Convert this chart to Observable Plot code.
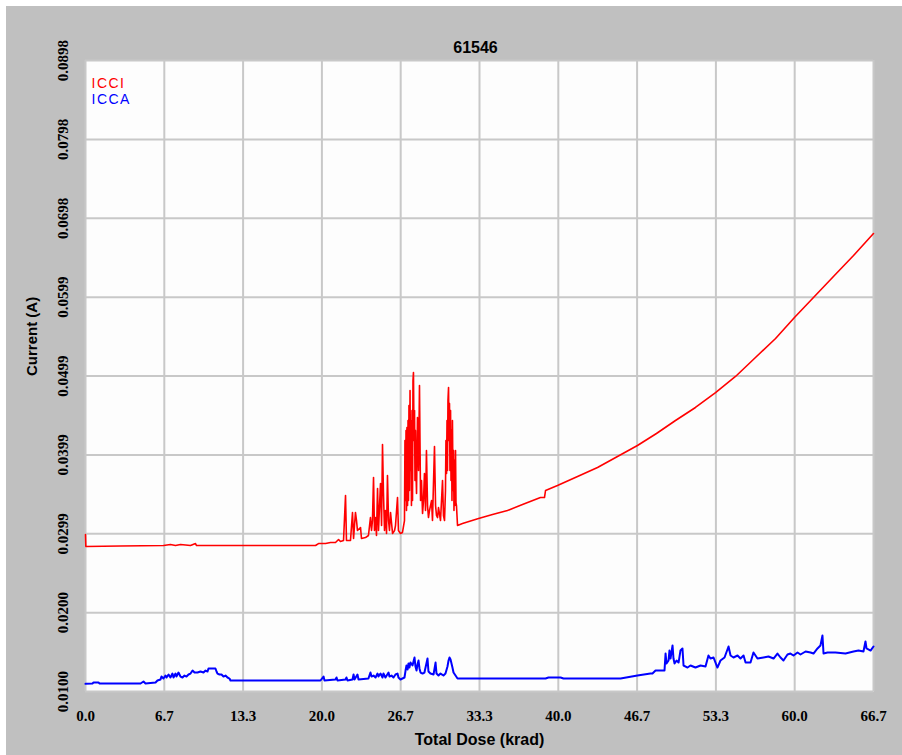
<!DOCTYPE html>
<html><head><meta charset="utf-8">
<script src="https://cdn.jsdelivr.net/npm/d3@7"></script>
<script src="https://cdn.jsdelivr.net/npm/@observablehq/plot@0.6"></script>
<style>
html,body{margin:0;padding:0;background:#fff;}
#chart{position:absolute;left:6px;top:6px;}
</style></head><body><div id="chart"></div>
<script>
const chartTitle = "61546";
const xTitle = "Total Dose (krad)";
const yTitle = "Current (A)";
const seriesNames = ["ICCI", "ICCA"];
const seriesColors = ["#ff0000", "#0000ff"];

const xTicks = [0, 6.67, 13.34, 20.01, 26.68, 33.35, 40.02, 46.69, 53.36, 60.03, 66.7];
const xTickLabels = ["0.0","6.7","13.3","20.0","26.7","33.3","40.0","46.7","53.3","60.0","66.7"];
const yTicks = [0.0100, 0.019975, 0.02995, 0.039925, 0.0499, 0.059875, 0.06985, 0.079825, 0.0898];
const yTickLabels = ["0.0100","0.0200","0.0299","0.0399","0.0499","0.0599","0.0698","0.0798","0.0898"];

const icciDose = [
  0, 0.03, 2.96, 6.60, 7.19, 7.62, 8.04, 8.89, 9.31, 9.40, 13.97, 19.47, 19.72, 20.32, 20.74, 21.16, 21.42, 21.58, 21.84, 22.01, 22.09, 22.43, 22.60, 22.69, 22.85, 22.94, 23.02, 23.28, 23.36, 23.70, 23.95, 24.12, 24.21, 24.29, 24.38, 24.46, 24.55, 24.63, 24.72, 24.80, 24.97, 25.06, 25.14, 25.22, 25.31, 25.39, 25.48, 25.56, 25.65, 25.73, 25.82, 25.99, 26.16, 26.24, 26.41, 26.49, 26.66, 26.83,
  27.00, 27.04, 27.09, 27.13, 27.17, 27.21, 27.26, 27.30, 27.34, 27.38, 27.42, 27.47, 27.51, 27.55, 27.59, 27.64, 27.68, 27.72, 27.76, 27.81, 27.85, 27.89, 27.93, 27.97, 28.02,
  28.10, 28.19, 28.27, 28.36, 28.44, 28.53, 28.61, 28.69, 28.78, 28.86, 28.95, 29.03, 29.12, 29.29, 29.37, 29.54, 29.63, 29.71, 29.80, 29.88, 30.05, 30.22, 30.30, 30.39,
  30.47, 30.51, 30.56, 30.60, 30.64, 30.68, 30.73, 30.77, 30.81, 30.85, 30.90, 30.94, 30.98, 31.02, 31.06, 31.11, 31.15, 31.19, 31.23, 31.27, 31.32, 31.36, 31.40, 31.49,
  31.91, 33.27, 34.45, 35.72, 36.99, 38.51, 38.85, 38.94, 39.95, 41.65, 43.34, 45.03, 46.72, 48.33, 49.94, 51.63, 53.33, 55.02, 56.71, 58.41, 60.01, 61.62, 63.31, 65.01, 66.70];
const icciCurrent = [
  0.02985, 0.02834, 0.02840, 0.02846, 0.02859, 0.02846, 0.02859, 0.02846, 0.02871, 0.02846, 0.02846, 0.02846, 0.02871, 0.02871, 0.02884, 0.02884, 0.02922, 0.02897, 0.02909, 0.03479, 0.02909, 0.02909, 0.03264, 0.02935, 0.03264, 0.03162, 0.03036, 0.03074, 0.02935, 0.02947, 0.02973, 0.03200, 0.03036, 0.03162, 0.03706, 0.03036, 0.03200, 0.02973, 0.03567, 0.03036, 0.03630, 0.03099, 0.04124, 0.03516, 0.03036, 0.03289, 0.02998, 0.03732, 0.03162, 0.03036, 0.03264, 0.02998, 0.03036, 0.03099, 0.03453, 0.03036, 0.02998, 0.03011,
  0.03162, 0.04174, 0.03415, 0.04301, 0.03289, 0.04339, 0.03352, 0.04427, 0.03415, 0.04617, 0.03542, 0.04806, 0.03795, 0.04427, 0.03352, 0.04554, 0.03415, 0.04933, 0.05034, 0.04174, 0.04554, 0.03668, 0.04301, 0.03795, 0.03504,
  0.04465, 0.03795, 0.04870, 0.03415, 0.03668, 0.03251, 0.03415, 0.03757, 0.03289, 0.04048, 0.03352, 0.03200, 0.03289, 0.03415, 0.03162, 0.04098, 0.03352, 0.03226, 0.03200, 0.03327, 0.03162, 0.03668, 0.03226, 0.03162,
  0.03542, 0.04174, 0.03757, 0.04427, 0.03795, 0.04680, 0.04844, 0.04174, 0.04642, 0.03795, 0.04554, 0.03668, 0.04301, 0.03415, 0.04427, 0.03542, 0.04048, 0.03289, 0.03921, 0.03352, 0.04048, 0.03390, 0.03352, 0.03099,
  0.03124, 0.03188, 0.03238, 0.03289, 0.03365, 0.03453, 0.03453, 0.03542, 0.03605, 0.03719, 0.03833, 0.03972, 0.04111, 0.04263, 0.04427, 0.04592, 0.04781, 0.04984, 0.05224, 0.05464, 0.05730, 0.05983, 0.06248, 0.06514, 0.06792];

const iccaDose = [0, 0.59, 0.68, 1.10, 1.19, 4.66, 4.91, 5.08, 5.93, 6.09, 6.35, 6.43, 6.60, 6.77, 6.86, 7.03, 7.19, 7.36, 7.45, 7.62, 7.70, 7.87, 8.04, 8.21, 8.38, 8.55, 8.72, 8.89, 9.06, 9.23, 9.48, 9.73, 9.99, 10.16, 10.33, 10.41, 10.75, 11.00, 11.09, 11.17, 11.34, 11.51, 11.68, 11.85, 12.02, 12.19, 12.27, 18.20, 19.89, 20.15, 20.23, 21.16, 21.25, 21.33, 22.01, 22.09, 22.18, 22.60, 22.69, 22.77, 23.02, 23.11, 23.95, 24.12, 24.21, 24.38, 24.55, 24.72, 24.80, 24.97, 25.14, 25.22, 25.39, 25.65, 25.73, 25.90, 26.07, 26.24, 26.41, 26.49, 26.66, 27.00, 27.09, 27.17, 27.26, 27.34, 27.42, 27.51, 27.68, 27.85, 27.93, 28.02, 28.10, 28.19, 28.27, 28.36, 28.53, 28.69, 28.95, 29.03, 29.20, 29.46, 29.63, 29.71, 29.88, 30.05, 30.30, 30.47, 30.64, 30.73, 30.81, 30.90, 31.06, 31.15, 31.32, 31.49, 35.13, 38.94, 39.19, 40.21, 40.46, 45.29, 46.72, 47.82, 47.99, 48.25, 48.67, 49.01, 49.10, 49.18, 49.35, 49.43, 49.52, 49.69, 49.77, 49.86, 50.03, 50.20, 50.36, 50.53, 50.62, 50.96, 51.21, 51.63, 52.06, 52.48, 52.73, 52.90, 53.16, 53.49, 53.75, 54.09, 54.43, 54.60, 54.85, 55.19, 55.44, 55.70, 55.87, 56.29, 56.54, 56.88, 57.39, 57.81, 58.24, 58.57, 58.83, 59.08, 59.42, 59.67, 59.93, 60.27, 60.52, 60.95, 61.37, 61.62, 61.96, 62.21, 62.38, 62.47, 62.81, 63.48, 64.33, 65.01, 65.43, 65.85, 66.02, 66.11, 66.45, 66.70];
const iccaCurrent = [0.01097, 0.01101, 0.01114, 0.01114, 0.01101, 0.01101, 0.01126, 0.01101, 0.01114, 0.01139, 0.01152, 0.01189, 0.01164, 0.01202, 0.01177, 0.01215, 0.01177, 0.01227, 0.01177, 0.01227, 0.01189, 0.01240, 0.01189, 0.01177, 0.01202, 0.01189, 0.01215, 0.01227, 0.01265, 0.01240, 0.01240, 0.01253, 0.01240, 0.01265, 0.01253, 0.01291, 0.01291, 0.01291, 0.01253, 0.01227, 0.01215, 0.01215, 0.01189, 0.01202, 0.01177, 0.01164, 0.01139, 0.01139, 0.01139, 0.01189, 0.01139, 0.01152, 0.01177, 0.01139, 0.01152, 0.01177, 0.01139, 0.01152, 0.01215, 0.01152, 0.01215, 0.01152, 0.01164, 0.01240, 0.01189, 0.01202, 0.01177, 0.01227, 0.01189, 0.01227, 0.01177, 0.01227, 0.01177, 0.01240, 0.01189, 0.01202, 0.01177, 0.01215, 0.01227, 0.01177, 0.01152, 0.01177, 0.01265, 0.01329, 0.01278, 0.01354, 0.01303, 0.01366, 0.01329, 0.01430, 0.01316, 0.01265, 0.01341, 0.01392, 0.01291, 0.01240, 0.01227, 0.01240, 0.01417, 0.01253, 0.01227, 0.01215, 0.01366, 0.01227, 0.01202, 0.01227, 0.01202, 0.01227, 0.01316, 0.01392, 0.01430, 0.01404, 0.01303, 0.01240, 0.01202, 0.01164, 0.01164, 0.01164, 0.01177, 0.01177, 0.01164, 0.01164, 0.01202, 0.01227, 0.01227, 0.01265, 0.01265, 0.01265, 0.01480, 0.01354, 0.01392, 0.01518, 0.01417, 0.01582, 0.01417, 0.01354, 0.01392, 0.01366, 0.01518, 0.01544, 0.01329, 0.01303, 0.01329, 0.01303, 0.01329, 0.01316, 0.01455, 0.01417, 0.01430, 0.01303, 0.01392, 0.01430, 0.01569, 0.01455, 0.01430, 0.01455, 0.01417, 0.01455, 0.01366, 0.01366, 0.01493, 0.01417, 0.01430, 0.01442, 0.01417, 0.01480, 0.01430, 0.01392, 0.01468, 0.01480, 0.01455, 0.01493, 0.01468, 0.01506, 0.01493, 0.01480, 0.01544, 0.01582, 0.01708, 0.01480, 0.01493, 0.01493, 0.01480, 0.01506, 0.01518, 0.01506, 0.01632, 0.01544, 0.01518, 0.01569];

const icci = icciDose.map((d, i) => ({dose: d, current: icciCurrent[i]}));
const icca = iccaDose.map((d, i) => ({dose: d, current: iccaCurrent[i]}));

const tickFont = {fontFamily: "Liberation Serif", fontWeight: "bold", fontSize: 15, fill: "#000"};
const sansBold = {fontFamily: "Liberation Sans", fontWeight: "bold", fill: "#000"};

const chart = Plot.plot({
  width: 896,
  height: 749,
  marginLeft: 79,
  marginRight: 29,
  marginTop: 54,
  marginBottom: 64,
  style: {background: "#c0c0c0", overflow: "visible"},
  x: {domain: [0, 66.7]},
  y: {domain: [0.0100, 0.0898]},
  marks: [
    Plot.frame({fill: "#fdfdfd"}),
    Plot.gridX({ticks: xTicks, stroke: "#c8c8c8", strokeOpacity: 1, strokeWidth: 2}),
    Plot.gridY({ticks: yTicks, stroke: "#c8c8c8", strokeOpacity: 1, strokeWidth: 2}),
    Plot.axisX({ticks: xTicks, tickSize: 0, tickPadding: 19, label: null,
      tickFormat: d => xTickLabels[xTicks.indexOf(d)], ...tickFont}),
    Plot.axisY({ticks: yTicks, tickSize: 0, tickPadding: 18, label: null, rotate: -90,
      textAnchor: "middle", lineAnchor: "bottom",
      tickFormat: d => yTickLabels[yTicks.indexOf(d)], ...tickFont}),
    Plot.line(icci, {x: "dose", y: "current", stroke: seriesColors[0], strokeWidth: 1.6}),
    Plot.line(icca, {x: "dose", y: "current", stroke: seriesColors[1], strokeWidth: 2}),
    Plot.text([seriesNames[0]], {text: d => d, frameAnchor: "top-left", textAnchor: "start",
      dx: 6, dy: 18, fill: seriesColors[0], fontFamily: "Liberation Sans", fontSize: 14}),
    Plot.text([seriesNames[1]], {text: d => d, frameAnchor: "top-left", textAnchor: "start",
      dx: 6, dy: 34, fill: seriesColors[1], fontFamily: "Liberation Sans", fontSize: 14}),
    Plot.text([chartTitle], {text: d => d, frameAnchor: "top", dx: -4, dy: -19, fontSize: 16, ...sansBold}),
    Plot.text([xTitle], {text: d => d, frameAnchor: "bottom", dy: 53, fontSize: 16, ...sansBold}),
    Plot.text([yTitle], {text: d => d, frameAnchor: "left", dx: -53, rotate: -90, fontSize: 15, ...sansBold})
  ]
});
chart.querySelectorAll("text").forEach(t => {
  if (t.textContent === "ICCI" || t.textContent === "ICCA") t.setAttribute("letter-spacing", "1.5");
});
document.getElementById("chart").appendChild(chart);
</script>
</body></html>
